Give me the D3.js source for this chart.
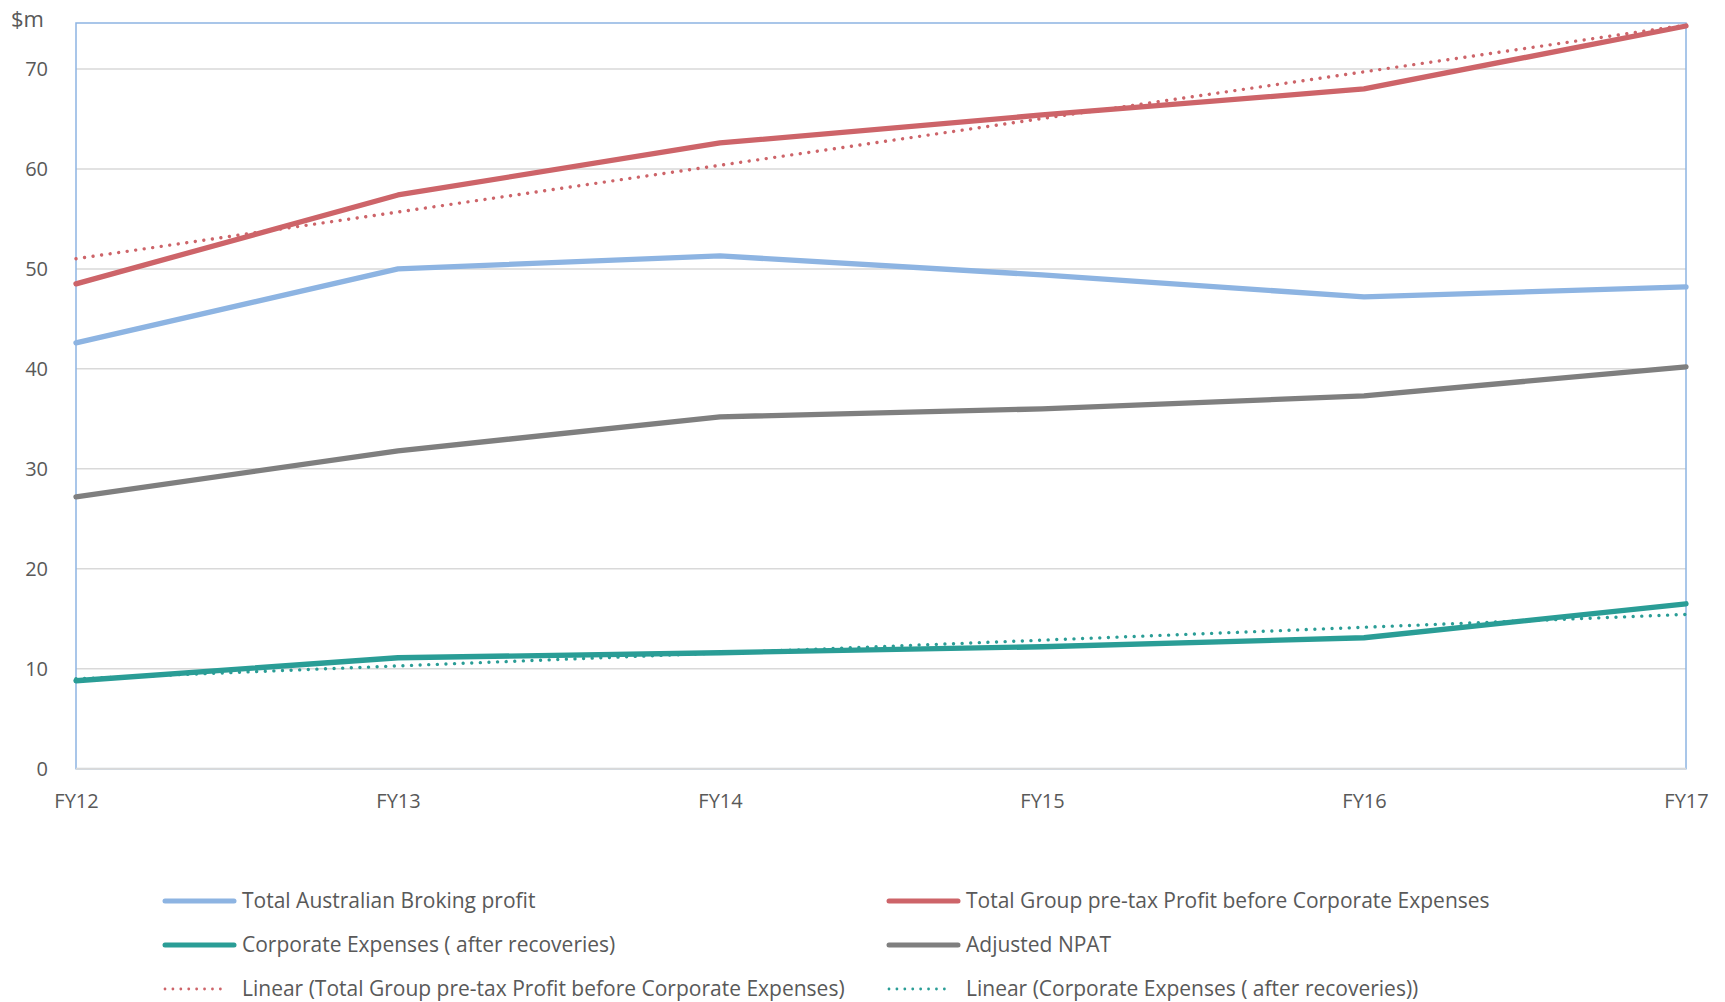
<!DOCTYPE html>
<html>
<head>
<meta charset="utf-8">
<script src="https://cdn.jsdelivr.net/npm/d3@7"></script>
<style>
  html, body { margin: 0; padding: 0; background: #fff; }
  svg { display: block; }
  text { font-family: "Open Sans", Lato, sans-serif; fill: #595959; }
</style>
</head>
<body>
<svg id="chart" width="1725" height="1002"></svg>
<script>
const categories = ["FY12", "FY13", "FY14", "FY15", "FY16", "FY17"];
const broking   = [42.6, 50.0, 51.3, 49.4, 47.2, 48.2];
const groupPre  = [48.5, 57.4, 62.6, 65.4, 68.0, 74.3];
const corpExp   = [8.8, 11.1, 11.6, 12.2, 13.1, 16.5];
const npat      = [27.2, 31.8, 35.2, 36.0, 37.3, 40.2];
const yTicks    = [0, 10, 20, 30, 40, 50, 60, 70];
const yMax      = 74.6;

const names = {
  broking: "Total Australian Broking profit",
  groupPre: "Total Group pre-tax Profit before Corporate Expenses",
  corpExp: "Corporate Expenses ( after recoveries)",
  npat: "Adjusted NPAT",
  trendGroup: "Linear (Total Group pre-tax Profit before Corporate Expenses)",
  trendCorp: "Linear (Corporate Expenses ( after recoveries))"
};
const colors = {
  broking: "#8DB4E2",
  groupPre: "#CD6469",
  corpExp: "#2A9D96",
  npat: "#7F7F7F"
};

// least-squares linear trend (as Excel's "Linear" trendline)
function linearTrend(vals) {
  const xs = vals.map((_, i) => i);
  const mx = d3.mean(xs), my = d3.mean(vals);
  let sxy = 0, sxx = 0;
  xs.forEach((x, i) => { sxy += (x - mx) * (vals[i] - my); sxx += (x - mx) * (x - mx); });
  const b = sxy / sxx, a = my - b * mx;
  return xs.map(x => a + b * x);
}

const svg = d3.select("#chart");
const L = 76, R = 1686, T = 23, B = 768.7;

const x = d3.scalePoint().domain(categories).range([L, R]);
const y = d3.scaleLinear().domain([0, yMax]).range([B, T]);

// gridlines
svg.append("g").selectAll("line").data(yTicks.filter(d => d > 0)).join("line")
  .attr("x1", L).attr("x2", R)
  .attr("y1", d => y(d)).attr("y2", d => y(d))
  .attr("stroke", "#D9D9D9").attr("stroke-width", 1.5);

// plot border (blue) and bottom axis (grey)
svg.append("rect").attr("x", L).attr("y", T).attr("width", R - L).attr("height", B - T)
  .attr("fill", "none").attr("stroke", "#8DB4E2").attr("stroke-width", 1.5);
svg.append("line").attr("x1", L).attr("x2", R).attr("y1", y(0)).attr("y2", y(0))
  .attr("stroke", "#D9D9D9").attr("stroke-width", 2);

// y axis labels
const yAxis = d3.axisLeft(y).tickValues(yTicks).tickSize(0).tickPadding(0).tickFormat(d3.format("d"));
const gy = svg.append("g").attr("transform", `translate(${48},0)`).call(yAxis);
gy.select(".domain").remove();
gy.selectAll("text").attr("font-size", 20).attr("fill", "#595959")
  .style("font-family", "'Open Sans', sans-serif");

// x axis labels
const xAxis = d3.axisBottom(x).tickSize(0).tickPadding(0);
const gx = svg.append("g").attr("transform", `translate(0,${794})`).call(xAxis);
gx.select(".domain").remove();
gx.selectAll("text").attr("font-size", 20).attr("fill", "#595959")
  .style("font-family", "'Open Sans', sans-serif");

// $m label
svg.append("text").attr("x", 11).attr("y", 27).attr("font-size", 22).text("$m");

const line = d3.line().x((d, i) => x(categories[i])).y(d => y(d));

const series = [
  {key: "broking", vals: broking},
  {key: "groupPre", vals: groupPre},
  {key: "corpExp", vals: corpExp},
  {key: "npat", vals: npat}
];
series.forEach(s => {
  svg.append("path").datum(s.vals).attr("d", line)
    .attr("fill", "none").attr("stroke", colors[s.key]).attr("stroke-width", 5.3)
    .attr("stroke-linejoin", "round").attr("stroke-linecap", "round");
});

// trendlines
[{vals: linearTrend(groupPre), c: colors.groupPre}, {vals: linearTrend(corpExp), c: colors.corpExp}].forEach(t => {
  svg.append("path").datum(t.vals).attr("d", line)
    .attr("fill", "none").attr("stroke", t.c).attr("stroke-width", 3.4)
    .attr("stroke-linecap", "round").attr("stroke-dasharray", "0.01 8.6");
});

// legend
const legend = [
  {label: names.broking, c: colors.broking, dotted: false, col: 0, row: 0},
  {label: names.groupPre, c: colors.groupPre, dotted: false, col: 1, row: 0},
  {label: names.corpExp, c: colors.corpExp, dotted: false, col: 0, row: 1},
  {label: names.npat, c: colors.npat, dotted: false, col: 1, row: 1},
  {label: names.trendGroup, c: colors.groupPre, dotted: true, col: 0, row: 2},
  {label: names.trendCorp, c: colors.corpExp, dotted: true, col: 1, row: 2}
];
const colX = [165, 889];
const rowY = [901, 945, 989];
const lg = svg.append("g").selectAll("g").data(legend).join("g")
  .attr("transform", d => `translate(${colX[d.col]},${rowY[d.row]})`);
lg.append("line").attr("x1", 0).attr("x2", d => d.dotted ? 63 : 69).attr("y1", 0).attr("y2", 0)
  .attr("stroke", d => d.c)
  .attr("stroke-width", d => d.dotted ? 2.8 : 5)
  .attr("stroke-linecap", "round")
  .attr("stroke-dasharray", d => d.dotted ? "0.01 7.9" : null);
lg.append("text").attr("x", 77).attr("y", 0).attr("dy", "0.35em")
  .attr("font-size", 21).text(d => d.label);
</script>
</body>
</html>
